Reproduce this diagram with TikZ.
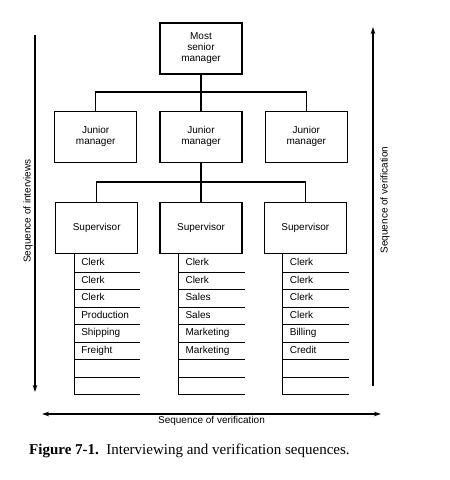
\documentclass[tikz,border=0pt]{standalone}
\usepackage{fontspec}
\setmainfont{Liberation Sans}
\newfontfamily\capfont{Liberation Serif}
\usepackage{tikz}
\usetikzlibrary{arrows.meta, positioning, calc}

\begin{document}
\begin{tikzpicture}[
    x=1pt, y=-1pt,
    node distance=22pt,
    box/.style={rectangle, draw, line width=1.3pt, minimum width=82pt, minimum height=51pt, align=center, font=\fontsize{10}{11}\selectfont},
    row/.style={rectangle, text width=52pt, inner xsep=7pt, inner ysep=0pt, text height=7.5pt, text depth=2.5pt, minimum height=17.5pt, anchor=north west, align=left, font=\fontsize{10}{11}\selectfont},
    link/.style={line width=1.3pt},
    rule/.style={line width=1.1pt},
    seq/.style={line width=1.1pt, -{Stealth[length=7pt, width=4.5pt]}},
    seqlabel/.style={font=\fontsize{10}{11}\selectfont, inner sep=1pt}
]
    \useasboundingbox (0,0) rectangle (450,480);

    % managers
    \node[box] (top) at (201,48.5) {Most\\senior\\manager};
    \node[box, below=36pt of top] (jM) {Junior\\manager};
    \node[box, left=of jM] (jL) {Junior\\manager};
    \node[box, right=of jM] (jR) {Junior\\manager};

    % supervisors
    \node[box, below=39pt of jM] (sM) {Supervisor};
    \node[box, left=21pt of sM] (sL) {Supervisor};
    \node[box, right=21pt of sM] (sR) {Supervisor};

    \coordinate (barA) at (0,92);
    \coordinate (barB) at (0,182);
    \draw[link] (top.south) -- (jM.north);
    \draw[link] (jL.north) -- (jL.north |- barA) -- (jR.north |- barA) -- (jR.north);
    \draw[link] (jM.south) -- (sM.north);
    \draw[link] (sL.north) -- (sL.north |- barB) -- (sR.north |- barB) -- (sR.north);

    % clerk lists
    \foreach \c/\items in {L/{Clerk,Clerk,Clerk,Production,Shipping,Freight,{},{}},
                           M/{Clerk,Clerk,Sales,Sales,Marketing,Marketing,{},{}},
                           R/{Clerk,Clerk,Clerk,Clerk,Billing,Credit,{},{}}} {
        \foreach \t [count=\i] in \items {
            \node[row] (\c\i) at ([xshift=19pt, yshift={(1-\i)*17.5pt}]s\c.south west) {\t};
            \draw[rule] (\c\i.south west) -- (\c\i.south east);
        }
        \draw[rule] (\c1.north west) -- (\c8.south west);
    }

    % sequences
    \coordinate (intA) at (35,35);
    \coordinate (intB) at (35,392);
    \draw[seq] (intA) -- (intB);
    \node[seqlabel, rotate=90] (intLabel) at (28,211) {Sequence of interviews};

    \coordinate (verA) at (373,386);
    \coordinate (verB) at (373,27);
    \draw[seq] (verA) -- (verB);
    \node[seqlabel, rotate=90] (verLabel) at (385,200) {Sequence of verification};

    \coordinate (botA) at (42,414);
    \coordinate (botB) at (381,414);
    \draw[seq, {Stealth[length=7pt, width=4.5pt]}-{Stealth[length=7pt, width=4.5pt]}] (botA) -- (botB);
    \node[seqlabel, below=1pt of $(botA)!0.5!(botB)$] (botLabel) {Sequence of verification};

    % caption
    \node[anchor=west, font=\capfont\fontsize{15}{17}\selectfont, inner sep=0pt] (caption) at (29,451)
        {\textbf{Figure 7-1.}\ \ Interviewing and verification sequences.};
\end{tikzpicture}
\end{document}
